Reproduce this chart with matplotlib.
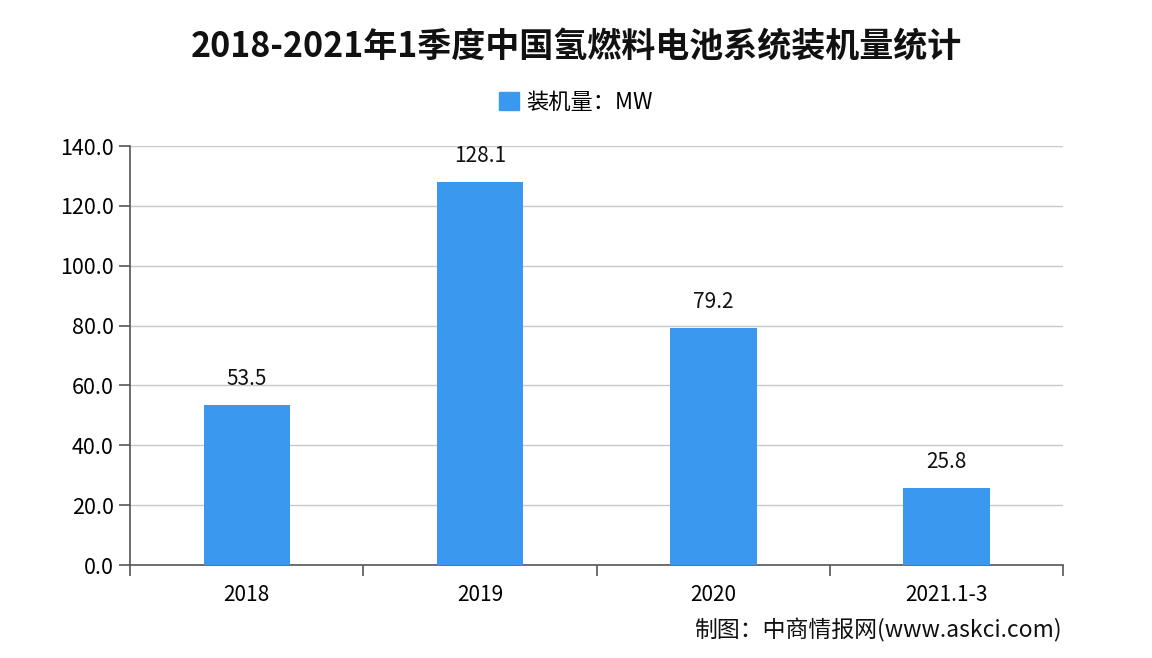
import matplotlib
matplotlib.use("Agg")
import matplotlib.pyplot as plt
from matplotlib.patches import Patch

plt.rcParams['font.family'] = ['Noto Sans CJK SC', 'DejaVu Sans']

categories = ["2018", "2019", "2020", "2021.1-3"]
values = [53.5, 128.1, 79.2, 25.8]
yticks = [0, 20, 40, 60, 80, 100, 120, 140]

fig = plt.figure(figsize=(11.52, 6.58), dpi=100)
ax = fig.add_axes([0.113, 0.1413, 0.810, 0.6367])

bar_color = "#3A99EE"
x = list(range(len(categories)))
bars = ax.bar(x, values, width=0.37, color=bar_color, zorder=3)
for xi, v in zip(x, values):
    ax.text(xi, v + 5, f"{v:.1f}", ha="center", va="bottom", fontsize=15, color="#111111")

ax.set_xlim(-0.5, len(categories) - 0.5)
ax.set_ylim(0, 140)
ax.set_yticks(yticks)
ax.set_yticklabels([f"{t:.1f}" for t in yticks], fontsize=15.5)
ax.grid(axis="y", color="#C8C8C8", linewidth=1, zorder=0)

ax.set_xticks(x)
ax.set_xticklabels(categories, fontsize=15)
ax.tick_params(axis="x", length=0, pad=14)
ax.set_xticks([i - 0.5 for i in range(len(categories) + 1)], minor=True)
ax.tick_params(axis="x", which="minor", length=8, color="#555555", width=1.2)
ax.tick_params(axis="y", length=8, color="#555555", width=1.2, pad=4)

for s in ["top", "right"]:
    ax.spines[s].set_visible(False)
for s in ["left", "bottom"]:
    ax.spines[s].set_color("#555555")
    ax.spines[s].set_linewidth(1.2)

fig.text(0.5, 0.93, "2018-2021年1季度中国氢燃料电池系统装机量统计", ha="center", va="center",
         fontsize=24.5, fontweight="bold", color="#111111")
leg = fig.legend(handles=[Patch(color=bar_color, label="装机量：MW")], loc="center",
                 bbox_to_anchor=(0.5, 0.845), frameon=False, fontsize=16,
                 handlelength=0.9, handleheight=0.9, handletextpad=0.3)
fig.text(0.922, 0.042, "制图：中商情报网(www.askci.com)", ha="right", va="center",
         fontsize=16.5, color="#111111")

fig.savefig("out.png", dpi=100)
